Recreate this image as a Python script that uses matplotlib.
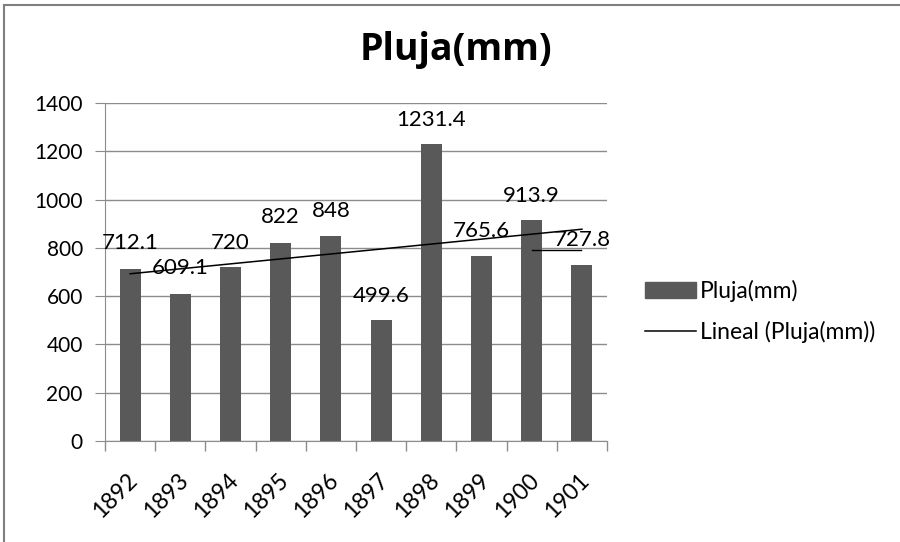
import numpy as np
import matplotlib.pyplot as plt
import matplotlib.transforms as mtransforms
from matplotlib.patches import Rectangle
from matplotlib.lines import Line2D

plt.rcParams['font.family'] = ['Lato', 'DejaVu Sans']

# data
years = ['1892', '1893', '1894', '1895', '1896', '1897', '1898', '1899', '1900', '1901']
rain = [712.1, 609.1, 720, 822, 848, 499.6, 1231.4, 765.6, 913.9, 727.8]
label_text = ['712.1', '609.1', '720', '822', '848', '499.6', '1231.4', '765.6', '913.9', '727.8']

# where Excel left the data labels (mm on the y scale)
label_y = [820, 717, 820, 928, 952, 600, 1330, 870, 1015, 833]

fig = plt.figure(figsize=(9, 5.42), dpi=100)
ax = fig.add_axes([0.1167, 0.1863, 0.5578, 0.6237])

x = np.arange(len(years))
bar_col = '#595959'
ax.bar(x, rain, width=0.42, color=bar_col, zorder=2)

# linear trend
coef = np.polyfit(x, rain, 1)
trend = np.polyval(coef, x)
ax.plot(x, trend, color='black', lw=1.1, zorder=3)

for i, t in enumerate(label_text):
    ax.text(x[i], label_y[i], t, ha='center', va='center',
            fontsize=16, color='black', zorder=4)
# leader line of last label
ax.plot([x[8], x[9] - 0.02], [791, 791], color='black', lw=1.0, zorder=3)

ax.set_xlim(-0.5, len(years) - 0.5)
ax.set_ylim(0, 1400)
ax.set_yticks(np.arange(0, 1401, 200))
ax.yaxis.grid(True, color='#8c8c8c', lw=1.0)
ax.set_axisbelow(True)

ax.set_xticks(x)
ax.set_xticklabels(years, rotation=45, ha='right', va='center',
                   rotation_mode='anchor', fontsize=16.5)
ax.tick_params(axis='x', length=0, pad=26)
offset = mtransforms.ScaledTranslation(3 / 72, 0, fig.dpi_scale_trans)
for lab in ax.get_xticklabels():
    lab.set_transform(lab.get_transform() + offset)
ax.set_xticks(np.arange(-0.5, len(years)), minor=True)
ax.tick_params(axis='x', which='minor', length=7, color='#8c8c8c', width=1)
ax.tick_params(axis='y', labelsize=15, length=7, color='#8c8c8c', pad=9)

for s in ['top', 'right']:
    ax.spines[s].set_visible(False)
ax.spines['left'].set_color('#8c8c8c')
ax.spines['bottom'].set_color('#8c8c8c')

fig.text(0.507, 0.908, 'Pluja(mm)', ha='center', va='center', fontsize=27,
         fontweight='bold', family=['Open Sans', 'DejaVu Sans'])

handles = [Rectangle((0, 0), 1, 1, color=bar_col),
           Line2D([0], [0], color='black', lw=1.1)]
fig.legend(handles, ['Pluja(mm)', 'Lineal (Pluja(mm))'], loc='center left',
           bbox_to_anchor=(0.694, 0.425), frameon=False, fontsize=16.5,
           handlelength=2.2, handleheight=0.7, labelspacing=0.85, handletextpad=0.2)

# outer frame
fig.patches.append(Rectangle((0.004, -0.01), 1.1, 1.0, transform=fig.transFigure,
                             fill=False, edgecolor='#7f7f7f', lw=1.5))

fig.savefig('out.png', dpi=100)
